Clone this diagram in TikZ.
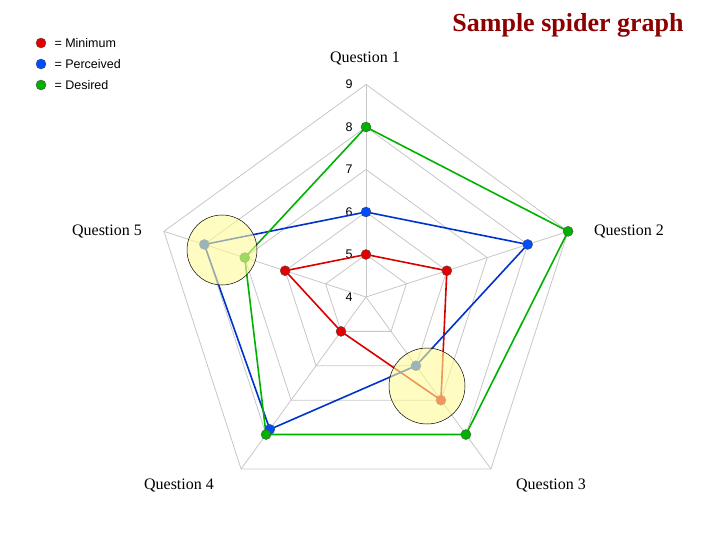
\documentclass[tikz,border=0pt]{standalone}
\usepackage{fontspec}
\usetikzlibrary{calc}
\setmainfont{Liberation Serif}
\newfontfamily\lsans{Liberation Sans}
\begin{document}
\begin{tikzpicture}[x=1pt,y=-1pt,
  grid/.style={draw=black!22,line width=0.8pt},
  ser/.style={line width=1.6pt},
  dot/.style={circle,draw=black!70,line width=0.4pt,inner sep=0pt,minimum size=10pt},
  hl/.style={circle,draw=black,line width=0.5pt,fill=yellow!40,fill opacity=0.6,minimum size=70pt},
  qlab/.style={font=\fontsize{16}{18}\selectfont},
  nlab/.style={font=\lsans\fontsize{12.5}{14}\selectfont,fill=white,inner sep=1pt},
  leg/.style={font=\lsans\fontsize{12.5}{14}\selectfont,anchor=west}]
\useasboundingbox (0,0) rectangle (720,540);
\coordinate (c) at (366,297);
\def\u{42.5}
% grid
\foreach \l in {1,...,5}{
  \draw[grid] ($(c)+(90:-\l*\u)$) \foreach \a in {18,-54,-126,162}{ -- ($(c)+(-\a:\l*\u)$)} -- cycle;
}
\foreach \a in {90,18,-54,-126,162}{\draw[grid] (c) -- ($(c)+(-\a:5*\u)$);}
\foreach \v [count=\i from 0] in {4,...,9}{\node[nlab] (n\v) at (349,297-\i*\u) {\v};}
% series: levels -> radius (level-4)*u
\newcommand\pt[3]{\coordinate (#1) at ($(c)+(-#2:{(#3-4)*\u})$);}
\pt{g1}{90}{8}\pt{g2}{18}{9}\pt{g3}{-54}{8}\pt{g4}{-126}{8}\pt{g5}{162}{7}
\pt{b1}{90}{6}\pt{b2}{18}{8}\pt{b3}{-54}{6}\pt{b4}{-126}{7.85}\pt{b5}{162}{8}
\pt{r1}{90}{5}\pt{r2}{18}{6}\pt{r3}{-54}{7}\pt{r4}{-126}{5}\pt{r5}{162}{6}
\draw[ser,red!85!black] (r1)--(r2)--(r3)--(r4)--(r5)--cycle;
\draw[ser,blue!75!cyan!80!black] (b1)--(b2)--(b3)--(b4)--(b5)--cycle;
\draw[ser,green!70!black] (g1)--(g2)--(g3)--(g4)--(g5)--cycle;
\foreach \i in {1,...,5}{
 \node[dot,fill=red!90!black] (R\i) at (r\i) {};
 \node[dot,fill=blue!70!cyan] (B\i) at (b\i) {};
 \node[dot,fill=green!70!black] (G\i) at (g\i) {};
}
\node[hl] (h5) at (222,250) {};
\node[hl,minimum size=76pt] (h3) at (427,386) {};
% labels
\node[qlab] (q1) at (365,59) {Question 1};
\node[qlab] (q2) at (629,232) {Question 2};
\node[qlab] (q3) at (551,485) {Question 3};
\node[qlab] (q4) at (179,485) {Question 4};
\node[qlab] (q5) at (107,232) {Question 5};
\node[font=\fontsize{26}{30}\selectfont\bfseries,text=red!55!black] (t) at (568,25) {Sample spider graph};
% legend
\node[dot,fill=red!90!black] (l1) at (41,43) {};
\node[dot,fill=blue!70!cyan] (l2) at (41,64) {};
\node[dot,fill=green!70!black] (l3) at (41,85) {};
\node[leg] at (51,43) {= Minimum};
\node[leg] at (51,64) {= Perceived};
\node[leg] at (51,85) {= Desired};
\end{tikzpicture}
\end{document}
